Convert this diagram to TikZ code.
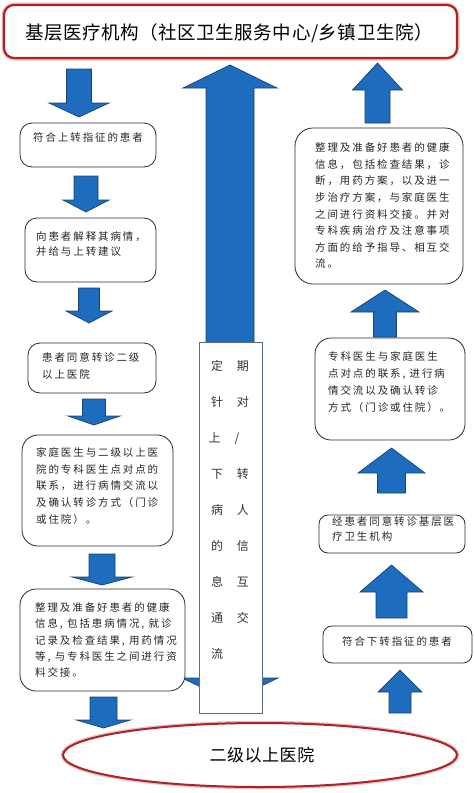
\documentclass[tikz,border=0pt]{standalone}
\usepackage{fontspec}
\setmainfont{Noto Sans CJK SC}
\newfontfamily\smallcjk[LetterSpace=18]{Noto Sans CJK SC}
\newfontfamily\bigcjk[LetterSpace=3]{Noto Sans CJK SC}
\usetikzlibrary{fit,shapes.geometric}
\definecolor{arrowblue}{RGB}{30,108,190}
\definecolor{arrowedge}{RGB}{26,66,112}
\definecolor{titlered}{RGB}{168,36,40}
\definecolor{glowred}{RGB}{240,190,190}
\definecolor{boxedge}{RGB}{40,40,40}
\definecolor{midedge}{RGB}{90,110,130}
\newcommand{\blkarr}[6]{% cx, stem half width, stem end, head base, head half width, tip
  \draw[blk] (#1-#2,#3) -- (#1+#2,#3) -- (#1+#2,#4) -- (#1+#5,#4) -- (#1,#6)
    -- (#1-#5,#4) -- (#1-#2,#4) -- cycle;}
\tikzset{
  blk/.style={fill=arrowblue, draw=arrowedge, line width=0.7pt, line join=miter},
  box/.style={draw=boxedge, fill=white, line width=0.8pt, rounded corners=12pt, inner sep=0pt},
  bigbox/.style={box, rounded corners=16pt},
  txt/.style={font=\smallcjk\fontsize{10.5}{16.6}\selectfont, align=left, inner sep=0pt, anchor=north west, text=black!85},
}
\begin{document}
\begin{tikzpicture}[x=1pt,y=-1pt]
\useasboundingbox (0,0) rectangle (474,793);
\fill[white] (0,0) rectangle (474,793);

% title box
\draw[glowred, line width=5pt, rounded corners=11pt] (4,5) rectangle (457,58);
\node[draw=titlered, line width=2.2pt, fill=white, rounded corners=10pt, inner sep=0pt,
  fit={(4,5) (457,58)}] (top) {};
\node[font=\bigcjk\fontsize{18.5}{20}\selectfont] (toptext) at (229,33)
  {基层医疗机构（社区卫生服务中心/乡镇卫生院）};

% big double arrow in the middle
\draw[blk] (230,65) -- (277,88) -- (254,88) -- (254,678) -- (278,678) -- (230,701)
  -- (182,678) -- (206,678) -- (206,88) -- (183,88) -- cycle;

% left column arrows (downwards)
\blkarr{79}{12.5}{69}{103}{30}{117}
\blkarr{86}{12}{176}{200}{23}{212}
\blkarr{89}{10.5}{288}{311}{23}{323}
\blkarr{94}{11.5}{399}{416}{26}{425}
\blkarr{102}{13}{554}{577}{30}{585}
\blkarr{103.5}{13.5}{697}{720}{27}{728}

% right column arrows (upwards)
\blkarr{377.5}{12.5}{123}{90}{25}{63}
\blkarr{385}{11.5}{337}{312}{34}{290}
\blkarr{391.5}{14}{493}{473}{33.5}{448}
\blkarr{391.5}{15.5}{618}{592}{31.5}{565}
\blkarr{400}{11}{713}{692}{22}{670}

% left boxes
\node[box, fit={(20,123) (156,167)}] (l1) {};
\node[txt] (l1t) at (33,132.5) {符合上转指征的患者};
\node[box, fit={(25,218) (156,282)}] (l2) {};
\node[txt, font=\smallcjk\fontsize{10.5}{15.2}\selectfont] (l2t) at (36,231.5) {向患者解释其病情，\\并给与上转建议};
\node[box, fit={(28,343) (156,393)}] (l3) {};
\node[txt, font=\smallcjk\fontsize{10.5}{17}\selectfont] (l3t) at (42,352.5) {患者同意转诊二级\\以上医院};
\node[bigbox, fit={(22,435) (173,546)}] (l4) {};
\node[txt] (l4t) at (36,447.5) {家庭医生与二级以上医\\院的专科医生点对点的\\联系，进行病情交流以\\及确认转诊方式（门诊\\或住院）。};
\node[bigbox, fit={(20,589) (185,691)}] (l5) {};
\node[txt, font=\smallcjk\fontsize{10.5}{16.3}\selectfont] (l5t) at (35,602.5) {整理及准备好患者的健康\\信息, 包括患病情况, 就诊\\记录及检查结果, 用药情况\\等, 与专科医生之间进行资\\料交接。};

% right boxes
\node[bigbox, rounded corners=18pt, fit={(295,128) (463,284)}] (r1) {};
\node[txt] (r1t) at (315,142.5) {整理及准备好患者的健康\\信息，包括检查结果，诊\\断，用药方案，以及进一\\步治疗方案，与家庭医生\\之间进行资料交接。并对\\专科疾病治疗及注意事项\\方面的给予指导、相互交\\流。};
\node[bigbox, fit={(315,338) (465,440)}] (r2) {};
\node[txt, font=\smallcjk\fontsize{10.5}{17}\selectfont] (r2t) at (328,351.5) {专科医生与家庭医生\\点对点的联系, 进行病\\情交流以及确认转诊\\方式（门诊或住院）。};
\node[box, rounded corners=9pt, fit={(319,515) (465,553)}] (r3) {};
\node[txt, font=\smallcjk\fontsize{10.5}{15.2}\selectfont] (r3t) at (332,516.5) {经患者同意转诊基层医\\疗卫生机构};
\node[box, rounded corners=9pt, fit={(323,626) (472,663)}] (r4) {};
\node[txt] (r4t) at (342,636.5) {符合下转指征的患者};

% middle text box
\node[draw=midedge, fill=white, line width=0.6pt, inner sep=0pt, fit={(199,342) (262,713)}] (mid) {};
\node[font=\smallcjk\fontsize{12}{36}\selectfont, align=center, inner sep=0pt, anchor=north, text=black!80] (midt) at (230,360.5)
  {定\hspace{14pt}期\\针\hspace{14pt}对\\上\hspace{14pt}/\hphantom{期}\\下\hspace{14pt}转\\病\hspace{14pt}人\\的\hspace{14pt}信\\息\hspace{14pt}互\\通\hspace{14pt}交\\流\hspace{14pt}\phantom{期}};

% bottom ellipse
\draw[glowred, line width=4.5pt] (260,755) ellipse [x radius=197, y radius=32];
\node[ellipse, draw=titlered, line width=2pt, fill=white, minimum width=394pt, minimum height=64pt, inner sep=0pt] (bot) at (260,755) {};
\node[font=\bigcjk\fontsize{17}{20}\selectfont] (bott) at (262,755) {二级以上医院};
\end{tikzpicture}
\end{document}
